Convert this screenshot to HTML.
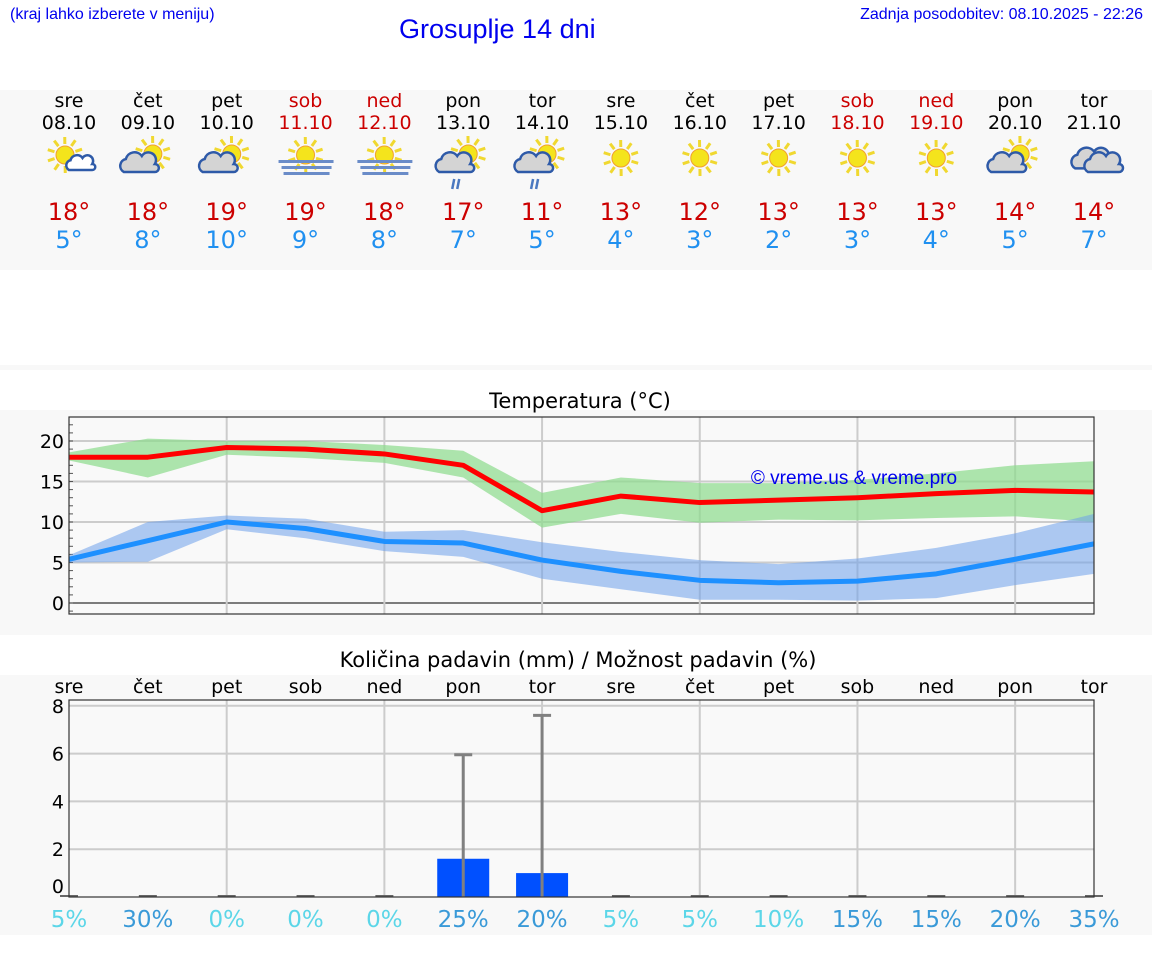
<!DOCTYPE html>
<html><head><meta charset="utf-8">
<style>
body{margin:0;width:1152px;height:975px;background:#fff;font-family:"DejaVu Sans","Liberation Sans",sans-serif;overflow:hidden;position:relative}
.abs{position:absolute}
</style></head>
<body>
<div class="abs" style="left:10px;top:6px;font-size:16px;color:#0000ee;font-family:'Liberation Sans',sans-serif">(kraj lahko izberete v meniju)</div>
<div class="abs" style="left:399px;top:14px;font-size:27px;color:#0000ee;font-family:'Liberation Sans',sans-serif">Grosuplje 14 dni</div>
<div class="abs" style="right:9px;top:6px;font-size:16px;color:#0000ee;font-family:'Liberation Sans',sans-serif">Zadnja posodobitev: 08.10.2025 - 22:26</div>
<svg id="svg" class="abs" style="left:0;top:0" width="1152" height="975"></svg>
<script>
const days=["sre","čet","pet","sob","ned","pon","tor","sre","čet","pet","sob","ned","pon","tor"];
const dates=["08.10","09.10","10.10","11.10","12.10","13.10","14.10","15.10","16.10","17.10","18.10","19.10","20.10","21.10"];
const weekend=[0,0,0,1,1,0,0,0,0,0,1,1,0,0];
const icons=["sc","cs","cs","fog","fog","rain","rain","sun","sun","sun","sun","sun","cs","clouds"];
const tmaxLabels=[18,18,19,19,18,17,11,13,12,13,13,13,14,14];
const tminLabels=[5,8,10,9,8,7,5,4,3,2,3,4,5,7];
const tmax=[18,18,19.2,19,18.4,17,11.4,13.2,12.4,12.7,13,13.5,13.9,13.7];
const tmaxHi=[18.6,20.3,20,20,19.5,18.8,13.6,15.5,14.8,14.8,15.2,16,17,17.5];
const tmaxLo=[17.6,15.5,18.3,17.9,17.3,15.5,9.3,11,9.9,10.3,10.2,10.5,10.7,10];
const tmin=[5.4,7.7,10,9.2,7.6,7.4,5.3,3.9,2.8,2.5,2.7,3.6,5.4,7.3];
const tminHi=[5.9,10,10.8,10.4,8.8,9,7.5,6.3,5.3,4.8,5.5,6.8,8.6,11];
const tminLo=[5,5.1,9.1,8,6.4,5.7,3,1.7,0.4,0.4,0.3,0.6,2.2,3.6];
const tempTicks=[0,5,10,15,20];
const precip=[0,0,0,0,0,1.6,1.0,0,0,0,0,0,0,0];
const precipMax=[0,0,0,0,0,5.95,7.6,0,0,0,0,0,0,0];
const precipTicks=[0,2,4,6,8];
const chance=[5,30,0,0,0,25,20,5,5,10,15,15,20,35];

const NS="http://www.w3.org/2000/svg";
const svg=document.getElementById('svg');
function mk(tag,attrs,parent){const e=document.createElementNS(NS,tag);for(const k in attrs)e.setAttribute(k,attrs[k]);(parent||svg).appendChild(e);return e;}
function tx(x,y,s,size,fill,anchor,parent){const e=mk('text',{x:x,y:y,'font-size':size,fill:fill,'text-anchor':anchor||'middle','font-family':'DejaVu Sans, Liberation Sans, sans-serif'},parent);e.textContent=s;return e;}
const X0=69,X1=1094;
const xs=i=>X0+i*(X1-X0)/13;
let r;
r=mk('rect',{x:0,y:90,width:1152,height:180,fill:'#f8f8f8'});

r=mk('rect',{x:0,y:365,width:1152,height:5,fill:'#f8f8f8'});

r=mk('rect',{x:0,y:410,width:1152,height:225,fill:'#f8f8f8'});

r=mk('rect',{x:0,y:675,width:1152,height:260,fill:'#f8f8f8'});


function sun(g,cx,cy,rad){
  for(let k=0;k<10;k++){const a=k*Math.PI/5+0.3;mk('line',{x1:cx+Math.cos(a)*(rad+2),y1:cy+Math.sin(a)*(rad+2),x2:cx+Math.cos(a)*(rad+9),y2:cy+Math.sin(a)*(rad+9),stroke:'#f0d830','stroke-width':3},g);}
  mk('circle',{cx:cx,cy:cy,r:rad,fill:'#f4e41c',stroke:'#f0a030','stroke-width':1},g);
}
function cloud(g,cx,cy,s,fill){
  const p=`M${cx-16*s},${cy+8*s} a${7*s},${7*s} 0 0 1 ${2*s},${-13*s} a${9*s},${9*s} 0 0 1 ${16*s},${-3*s} a${7*s},${7*s} 0 0 1 ${13*s},${8*s} a${4*s},${4*s} 0 0 1 ${0},${8*s} z`;
  mk('path',{d:p,fill:fill,stroke:'#2e5aa8','stroke-width':2.5},g);
}
function icon(type,cx,cy,i){
  const g=mk('g',{});
  
  
  if(type==='sun'){sun(g,cx,cy,9);}
  else if(type==='sc'){sun(g,cx-4,cy-3,9);cloud(g,cx+12,cy+6,0.75,'#fff');}
  else if(type==='cs'||type==='rain'){sun(g,cx+5,cy-4,9);cloud(g,cx-8,cy+6,1,'#d4d4d4');
    if(type==='rain'){mk('line',{x1:cx-9,y1:cy+21,x2:cx-11,y2:cy+31,stroke:'#4a78c0','stroke-width':2.5},g);mk('line',{x1:cx-4,y1:cy+21,x2:cx-6,y2:cy+31,stroke:'#4a78c0','stroke-width':2.5},g);}}
  else if(type==='fog'){sun(g,cx,cy-3,9);
    mk('rect',{x:cx-27,y:cy+2,width:55,height:3,fill:'#6a8cc8'},g);mk('rect',{x:cx-24,y:cy+8,width:50,height:3,fill:'#6a8cc8'},g);mk('rect',{x:cx-22,y:cy+14,width:46,height:3,fill:'#6a8cc8'},g);}
  else if(type==='clouds'){cloud(g,cx-2,cy+2,1.05,'#d4d4d4');cloud(g,cx+10,cy+6,1,'#d4d4d4');}
}
for(let i=0;i<14;i++){
  const x=xs(i);const c=weekend[i]?'#cc0000':'#000';
  let t=tx(x,107,days[i],19,c);
  t=tx(x,129,dates[i],19,c);
  icon(icons[i],x,158,i);
  t=tx(x,220,tmaxLabels[i]+'°',24,'#cc0000');
  t=tx(x,248,tminLabels[i]+'°',24,'#2090f0');
}
const TY0=603,TK=8.1,ty=v=>TY0-v*TK;
let t=tx(580,408,'Temperatura (°C)',21,'#000');
const tg=mk('g',{});
mk('rect',{x:X0,y:417,width:X1-X0,height:197,fill:'#f9f9f9'},tg);
for(const v of tempTicks){mk('line',{x1:X0,x2:X1,y1:ty(v),y2:ty(v),stroke:v===0?'#333':'#ccc','stroke-width':v===0?1.2:2},tg);
  const l=tx(64,ty(v)+7,String(v),19,'#000','end',tg);}
for(let v=-1;v<=22;v++){mk('line',{x1:X0,x2:X0+4,y1:ty(v),y2:ty(v),stroke:'#555','stroke-width':1},tg);}
for(let i=2;i<13;i+=2){mk('line',{x1:xs(i),x2:xs(i),y1:417,y2:614,stroke:'#ccc','stroke-width':2},tg);}
function band(hi,lo,fill,name){const pts=hi.map((v,i)=>xs(i)+','+ty(v)).concat(lo.map((v,i)=>xs(i)+','+ty(v)).reverse());
  const p=mk('polygon',{points:pts.join(' '),fill:fill},tg);}
function line(a,col,name){const p=mk('polyline',{points:a.map((v,i)=>xs(i)+','+ty(v)).join(' '),fill:'none',stroke:col,'stroke-width':5,'stroke-linejoin':'round'},tg);}
band(tmaxHi,tmaxLo,'rgba(140,220,140,0.7)','max-temp-range');
band(tminHi,tminLo,'rgba(110,160,235,0.55)','min-temp-range');
line(tmax,'#ff0000','max-temp-line');
line(tmin,'#1e90ff','min-temp-line');
mk('rect',{x:X0,y:417,width:X1-X0,height:197,fill:'none',stroke:'#333','stroke-width':1.2},tg);
t=tx(854,484,'© vreme.us & vreme.pro',19,'#0000ee','middle',tg);t.setAttribute('font-family','Liberation Sans, sans-serif');
const PY0=897,PK=23.9,py=v=>PY0-v*PK;
t=tx(578,667,'Količina padavin (mm) / Možnost padavin (%)',21,'#000');
const pg=mk('g',{});
for(let i=0;i<14;i++){const l=tx(xs(i),693,days[i],19,'#000','middle',pg);}
mk('rect',{x:X0,y:700,width:X1-X0,height:197,fill:'#f9f9f9'},pg);
for(const v of precipTicks){if(v>0)mk('line',{x1:X0,x2:X1,y1:py(v),y2:py(v),stroke:'#ccc','stroke-width':2},pg);
  const l=tx(64,py(v)+(v===0?-4:7),String(v),19,'#000','end',pg);}
for(let i=2;i<13;i+=2){mk('line',{x1:xs(i),x2:xs(i),y1:700,y2:897,stroke:'#ccc','stroke-width':2},pg);}
for(let i=0;i<14;i++){
  const x=xs(i);
  if(precip[i]>0){const b=mk('rect',{x:x-26,y:py(precip[i]),width:52,height:precip[i]*PK,fill:'#0050ff'},pg);}
  if(precipMax[i]>0){const w=mk('line',{x1:x,x2:x,y1:py(precipMax[i]),y2:PY0,stroke:'#808080','stroke-width':3},pg);
    mk('line',{x1:x-9,x2:x+9,y1:py(precipMax[i]),y2:py(precipMax[i]),stroke:'#808080','stroke-width':3},pg);}
  else mk('line',{x1:x-9,x2:x+9,y1:PY0-1,y2:PY0-1,stroke:'#666','stroke-width':2},pg);
  const l=tx(x,927,chance[i]+'%',23,chance[i]>=15?'#3a9ad8':'#5cd6e8','middle',pg);
}
mk('rect',{x:X0,y:700,width:X1-X0,height:197,fill:'none',stroke:'#333','stroke-width':1.2},pg);
</script>
</body></html>
